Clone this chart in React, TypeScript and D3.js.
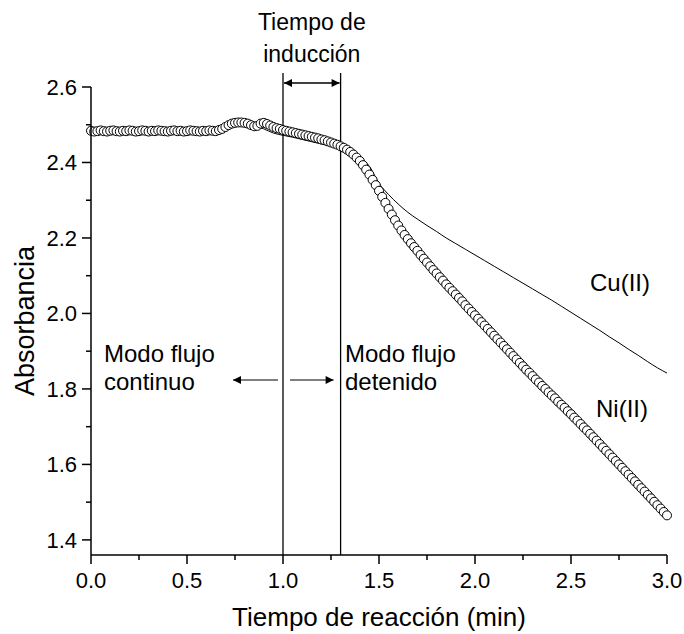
import React from "react";
import * as d3 from "d3";

// Ni(II): sampled every 1/60 min from 0 to 3 min
const niValues: number[] = [
  2.484, 2.482, 2.483, 2.485, 2.483, 2.482, 2.484, 2.485, 2.483, 2.482,
  2.484, 2.483, 2.485, 2.484, 2.482, 2.483, 2.485, 2.484, 2.482, 2.484,
  2.483, 2.485, 2.484, 2.483, 2.482, 2.484, 2.485, 2.483, 2.484, 2.482,
  2.483, 2.485, 2.484, 2.483, 2.482, 2.484, 2.483, 2.485, 2.484, 2.483,
  2.486, 2.489, 2.494, 2.499, 2.503, 2.505, 2.506, 2.506,
  2.505, 2.503, 2.499, 2.496, 2.497,
  2.503, 2.505, 2.502, 2.498,
  2.494, 2.491, 2.489, 2.486, 2.484, 2.482, 2.480, 2.478, 2.476, 2.474,
  2.472, 2.470, 2.468, 2.466, 2.464, 2.461, 2.459, 2.456, 2.453, 2.450,
  2.447, 2.443,
  2.439, 2.434, 2.428, 2.421, 2.413, 2.404, 2.393, 2.381, 2.368, 2.354,
  2.340, 2.325,
  2.309, 2.293, 2.277, 2.262, 2.247, 2.233,
  2.220, 2.208, 2.197, 2.186, 2.176, 2.166,
  2.155, 2.145, 2.135, 2.125, 2.115, 2.106,
  2.096, 2.087, 2.077, 2.068, 2.059, 2.050,
  2.041, 2.032, 2.022, 2.013, 2.004, 1.995,
  1.986, 1.977, 1.968, 1.959, 1.950, 1.941,
  1.932, 1.923, 1.914, 1.905, 1.896, 1.887,
  1.878, 1.869, 1.860, 1.851, 1.843, 1.834,
  1.825, 1.817, 1.808, 1.800, 1.791, 1.783,
  1.775, 1.766, 1.758, 1.750, 1.741, 1.733,
  1.724, 1.716, 1.707, 1.698, 1.690, 1.681,
  1.672, 1.663, 1.654, 1.645, 1.636, 1.627,
  1.618, 1.609, 1.600, 1.591, 1.582, 1.573,
  1.564, 1.555, 1.546, 1.537, 1.528, 1.519,
  1.510, 1.501, 1.492, 1.483, 1.474, 1.465,
];

// Cu(II): sampled every 0.05 min from 0 to 3 min
const cuValues: number[] = [
  2.484, 2.483, 2.484, 2.484, 2.483, 2.484, 2.484, 2.483, 2.484, 2.484,
  2.483, 2.484, 2.484, 2.486, 2.490, 2.499, 2.503, 2.498, 2.489, 2.478,
  2.472, 2.467, 2.461, 2.455, 2.449, 2.443, 2.436, 2.428, 2.414, 2.390,
  2.345, 2.315, 2.290, 2.268, 2.250, 2.233, 2.217, 2.200, 2.185, 2.170,
  2.155, 2.140, 2.125, 2.110, 2.095, 2.080, 2.065, 2.050, 2.035, 2.019,
  2.003, 1.987, 1.971, 1.955, 1.938, 1.922, 1.905, 1.889, 1.872, 1.856,
  1.842,
];

const xTicks = [0, 0.5, 1.0, 1.5, 2.0, 2.5, 3.0];
const xMinorTicks = [0.25, 0.75, 1.25, 1.75, 2.25, 2.75];
const yTicks = [1.4, 1.6, 1.8, 2.0, 2.2, 2.4, 2.6];
const yMinorTicks = [1.5, 1.7, 1.9, 2.1, 2.3, 2.5];
const markerTimes = [1.0, 1.3];

const FONT = "'Liberation Sans', Arial, Helvetica, sans-serif";

export default function App() {
  const W = 684;
  const H = 634;
  const left = 91;
  const right = 667;
  const top = 87;
  const bottom = 555;

  const x = d3.scaleLinear().domain([0, 3]).range([left, right]);
  const y = d3.scaleLinear().domain([1.36, 2.6]).range([bottom, top]);

  const niData = niValues.map((v, i) => ({ t: i / 60, v }));
  const cuData = cuValues.map((v, i) => ({ t: i * 0.05, v }));

  const cuLine = d3
    .line<{ t: number; v: number }>()
    .x((d) => x(d.t))
    .y((d) => y(d.v))
    .curve(d3.curveMonotoneX)(cuData) as string;

  const arrowY = 83;
  const modeArrowY = 380;
  const fs = 24;

  return (
    <svg width={W} height={H} style={{ display: "block", position: "absolute", left: 0, top: 0, background: "#fff" }}>
      <defs>
        <marker id="ah" viewBox="0 0 10 10" refX="10" refY="5" markerWidth="11" markerHeight="8" markerUnits="userSpaceOnUse" orient="auto-start-reverse">
          <path d="M0,0 L10,5 L0,10 z" fill="#000" />
        </marker>
      </defs>
      <rect x={0} y={0} width={W} height={H} fill="#fff" />

      {/* vertical marker lines */}
      {markerTimes.map((t) => (
        <line key={t} x1={x(t)} x2={x(t)} y1={73} y2={bottom} stroke="#000" strokeWidth={1.3} />
      ))}

      {/* Cu line */}
      <path d={cuLine} fill="none" stroke="#000" strokeWidth={1} />

      {/* Ni circles */}
      {niData.map((d, i) => (
        <circle key={i} cx={x(d.t)} cy={y(d.v)} r={4.5} fill="#fff" stroke="#000" strokeWidth={1} />
      ))}

      {/* axes */}
      <line x1={left} x2={left} y1={top} y2={bottom} stroke="#000" strokeWidth={1.5} />
      <line x1={left} x2={right} y1={bottom} y2={bottom} stroke="#000" strokeWidth={1.5} />
      {xTicks.map((t) => (
        <g key={"x" + t}>
          <line x1={x(t)} x2={x(t)} y1={bottom} y2={bottom + 9} stroke="#000" strokeWidth={1.5} />
          <text x={x(t)} y={bottom + 33} textAnchor="middle" fontFamily={FONT} fontSize={22}>
            {t.toFixed(1)}
          </text>
        </g>
      ))}
      {xMinorTicks.map((t) => (
        <line key={"xm" + t} x1={x(t)} x2={x(t)} y1={bottom} y2={bottom + 5} stroke="#000" strokeWidth={1.5} />
      ))}
      {yTicks.map((v) => (
        <g key={"y" + v}>
          <line x1={left} x2={left - 9} y1={y(v)} y2={y(v)} stroke="#000" strokeWidth={1.5} />
          <text x={left - 14} y={y(v) + 8} textAnchor="end" fontFamily={FONT} fontSize={22}>
            {v.toFixed(1)}
          </text>
        </g>
      ))}
      {yMinorTicks.map((v) => (
        <line key={"ym" + v} x1={left} x2={left - 5} y1={y(v)} y2={y(v)} stroke="#000" strokeWidth={1.5} />
      ))}

      {/* axis titles */}
      <text x={(left + right) / 2} y={626} textAnchor="middle" fontFamily={FONT} fontSize={26}>
        Tiempo de reacción (min)
      </text>
      <text transform={`translate(34, ${(top + bottom) / 2}) rotate(-90)`} textAnchor="middle" fontFamily={FONT} fontSize={27}>
        Absorbancia
      </text>

      {/* induction time annotation */}
      <text x={(x(1.0) + x(1.3)) / 2} y={30} textAnchor="middle" fontFamily={FONT} fontSize={23}>
        Tiempo de
      </text>
      <text x={(x(1.0) + x(1.3)) / 2} y={62} textAnchor="middle" fontFamily={FONT} fontSize={23}>
        inducción
      </text>
      <line x1={x(1.0) + 1} x2={x(1.3) - 1} y1={arrowY} y2={arrowY} stroke="#000" strokeWidth={1.3} markerStart="url(#ah)" markerEnd="url(#ah)" />

      {/* mode annotations */}
      <text x={104} y={362} fontFamily={FONT} fontSize={fs}>Modo flujo</text>
      <text x={104} y={390} fontFamily={FONT} fontSize={fs}>continuo</text>
      <text x={345} y={362} fontFamily={FONT} fontSize={fs}>Modo flujo</text>
      <text x={345} y={390} fontFamily={FONT} fontSize={fs}>detenido</text>
      <line x1={x(1.0) - 5} x2={x(1.0) - 50} y1={modeArrowY} y2={modeArrowY} stroke="#000" strokeWidth={1.2} markerEnd="url(#ah)" />
      <line x1={x(1.0) + 7} x2={x(1.3) - 7} y1={modeArrowY} y2={modeArrowY} stroke="#000" strokeWidth={1.2} markerEnd="url(#ah)" />

      {/* series labels */}
      <text x={590} y={291} fontFamily={FONT} fontSize={fs}>Cu(II)</text>
      <text x={596} y={417} fontFamily={FONT} fontSize={fs}>Ni(II)</text>
    </svg>
  );
}
